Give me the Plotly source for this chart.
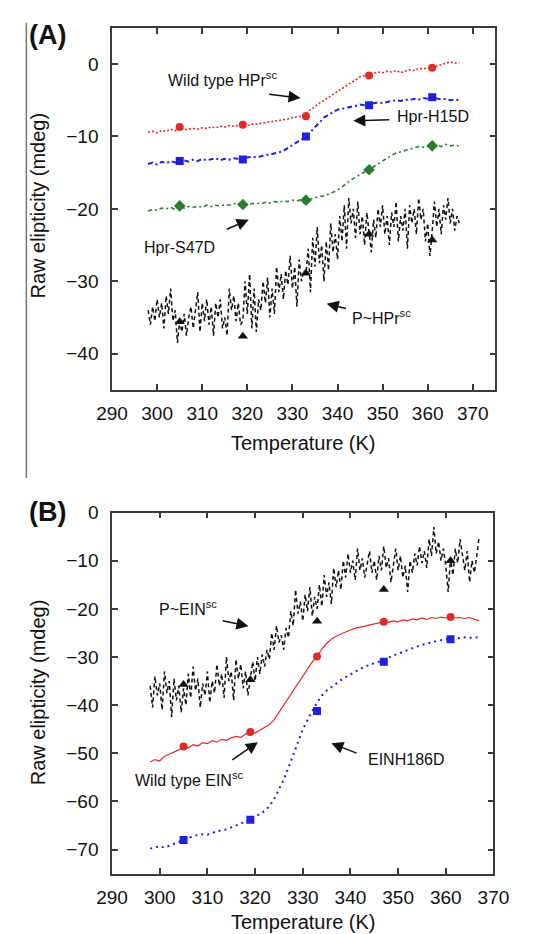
import plotly.graph_objects as go

# ---------------- DATA ----------------
# Panel A: noisy P~HPr (0.5 K step from 298 K)
a_black = [-34.0, -36.0, -33.5, -35.5, -32.5, -35.0, -33.0, -36.5, -32.0, -34.5,
           -31.0, -35.5, -34.0, -38.5, -35.5, -37.0, -34.5, -37.5, -35.0, -33.5,
           -36.5, -34.0, -31.5, -37.0, -33.0, -35.5, -32.5, -36.0, -33.5, -37.5,
           -33.0, -35.0, -32.5, -36.5, -35.0, -37.5, -31.0, -34.0, -32.0, -35.5,
           -33.0, -36.0, -35.5, -30.0, -34.5, -29.0, -36.5, -31.0, -37.0, -32.5,
           -34.0, -30.0, -33.0, -29.5, -35.0, -31.0, -34.5, -28.0, -31.5, -29.0,
           -32.5, -28.5, -30.5, -26.5, -31.0, -28.0, -33.5, -27.0, -30.0, -28.5,
           -29.0, -25.5, -31.5, -24.0, -28.0, -22.5, -27.5, -25.0, -30.0, -24.5,
           -28.5, -22.0, -26.0, -23.5, -27.0, -21.0, -24.5, -19.5, -25.5, -18.5,
           -22.0, -20.0, -24.0, -19.0, -23.5, -21.0, -25.0, -20.5, -23.0, -26.0,
           -21.5, -24.0, -20.0, -22.5, -19.5, -23.5, -21.0, -25.0, -20.5, -22.5,
           -19.0, -24.5, -21.0, -23.0, -20.0, -25.5, -19.5, -22.0, -20.0, -23.5,
           -18.5, -21.5, -20.0, -24.5, -22.0, -26.5, -23.0, -19.0, -22.5, -20.0,
           -23.5, -19.5, -21.5, -18.5, -22.0, -20.0, -23.0, -21.0, -22.0]

# Panel A smooth curves (1 K step from 298 K)
a_red = [-9.4, -9.3, -9.5, -9.2, -9.3, -9.0, -9.2, -8.8, -9.1, -9.0,
         -8.9, -9.0, -8.8, -8.9, -8.7, -8.8, -8.6, -8.7, -8.5, -8.6,
         -8.5, -8.4, -8.5, -8.3, -8.3, -8.2, -8.2, -8.1, -8.0, -7.9,
         -7.8, -7.6, -7.4, -7.3, -7.2, -6.8, -6.3, -5.8, -5.4, -5.0,
         -4.6, -4.2, -3.7, -3.3, -2.9, -2.5, -2.1, -1.8, -1.6, -1.4,
         -1.2, -1.1, -1.2, -1.0, -1.1, -0.9, -1.2, -1.0, -0.8, -0.9,
         -0.6, -0.7, -0.5, -0.5, -0.3, -0.1, 0.0, 0.3, 0.1, 0.2]
a_blue = [-13.8, -13.6, -13.9, -13.5, -13.7, -13.4, -13.6, -13.4, -13.3, -13.5,
          -13.2, -13.4, -13.1, -13.3, -13.2, -13.0, -13.3, -13.1, -13.2, -13.0,
          -13.1, -13.2, -12.9, -12.8, -12.9, -12.7, -12.6, -12.5, -12.4, -12.2,
          -12.0, -11.6, -11.2, -10.8, -10.4, -10.0, -9.4, -8.7, -8.0, -7.4,
          -7.0, -6.6, -6.3, -6.2, -6.0, -5.9, -5.8, -5.6, -5.7, -5.6,
          -5.4, -5.3, -5.4, -5.2, -5.1, -5.0, -5.1, -4.9, -5.0, -4.8,
          -4.9, -4.7, -4.8, -4.6, -4.7, -4.9, -4.8, -5.0, -4.9, -5.0]
a_green = [-20.3, -20.1, -20.2, -19.9, -20.0, -19.8, -20.1, -19.6, -19.9, -19.7,
           -19.8, -19.6, -19.8, -19.5, -19.7, -19.5, -19.6, -19.4, -19.5, -19.3,
           -19.4, -19.4, -19.5, -19.3, -19.2, -19.3, -19.1, -19.2, -19.0, -19.1,
           -18.9, -19.0, -18.8, -18.9, -18.7, -18.8, -18.6, -18.5, -18.3, -18.2,
           -18.0, -17.7, -17.4, -17.0, -16.5, -16.0, -15.6, -15.2, -14.9, -14.6,
           -14.2, -13.8, -13.3, -12.9, -12.6, -12.3, -12.1, -11.9, -11.7, -11.6,
           -11.4, -11.5, -11.3, -11.3, -11.2, -11.4, -11.1, -11.3, -11.2, -11.3]

# Panel B: noisy P~EIN (0.5 K step from 298 K)
b_black = [-36.0, -40.5, -34.0, -38.0, -35.5, -41.0, -33.0, -37.5, -35.0, -42.5,
           -34.5, -39.0, -36.0, -41.5, -36.5, -40.0, -33.5, -38.5, -32.0, -37.0,
           -34.5, -40.5, -35.5, -38.0, -33.0, -39.5, -35.0, -37.5, -31.5, -36.0,
           -33.5, -38.5, -30.0, -35.0, -33.0, -39.0, -30.5, -34.5, -31.5, -36.5,
           -33.0, -38.0, -34.5, -31.0, -35.0, -30.0, -33.5, -29.5, -32.0, -28.5,
           -30.5, -25.0, -28.5, -23.5, -27.0, -25.5, -28.5, -24.0, -26.0, -20.5,
           -23.5, -16.0, -21.0, -18.5, -22.5, -17.0, -20.5, -15.5, -21.5, -17.5,
           -20.0, -15.0, -19.5, -13.0, -17.5, -14.5, -19.0, -11.5, -15.5, -12.0,
           -16.0, -10.0, -13.5, -8.5, -12.5, -10.0, -14.0, -7.5, -12.0, -9.5,
           -13.5, -10.5, -8.0, -12.5, -10.0, -14.0, -9.0, -12.0, -7.0, -11.5,
           -9.5, -14.5, -10.5, -7.5, -12.0, -9.0, -13.5, -11.0, -16.5, -10.0,
           -12.5, -8.5, -11.0, -7.0, -10.5, -8.0, -11.5, -5.5, -9.0, -3.0,
           -8.5, -6.0, -10.0, -7.5, -11.0, -16.5, -9.5, -13.0, -7.5, -10.5,
           -5.5, -9.0, -12.0, -8.0, -14.5, -10.0, -12.5, -9.0, -5.0]

# Panel B smooth curves (1 K step from 298 K)
b_red = [-51.8, -51.3, -51.6, -50.6, -50.2, -49.7, -49.3, -48.6, -48.9, -48.2,
         -48.5, -47.8, -48.0, -47.4, -47.7, -47.1, -47.3, -46.8, -46.5, -46.7,
         -46.0, -45.6, -45.8, -45.2, -44.6, -44.0, -43.0, -41.5, -40.0, -38.5,
         -37.0, -35.5, -34.0, -32.5, -31.0, -29.9, -28.4, -27.2, -26.3, -25.7,
         -25.2, -24.8, -24.4, -24.0, -23.8, -23.6, -23.3, -23.1, -22.9, -22.6,
         -22.8, -22.5, -22.7, -22.3, -22.5, -22.1, -22.3, -21.9, -22.2, -21.8,
         -22.0, -21.7, -21.9, -21.6, -21.9, -21.8, -22.0, -21.8, -22.2, -22.5]
b_blue = [-69.8, -69.6, -69.3, -69.6, -69.2, -68.7, -68.3, -68.0, -67.6, -67.2,
          -67.0, -66.8, -66.9, -66.5, -66.2, -66.0, -65.8, -65.4, -65.0, -64.6,
          -64.2, -63.8, -63.2, -62.6, -62.0, -61.0, -59.5, -57.5, -55.5, -53.0,
          -50.5, -47.7, -45.0, -43.0, -41.2, -39.5, -38.0, -37.0, -36.2, -35.5,
          -34.8, -34.2, -33.6, -33.0, -32.5, -32.0, -31.6, -31.3, -31.0, -30.5,
          -30.1, -29.7, -29.3, -28.9, -28.5, -28.1, -27.8, -27.5, -27.2, -26.9,
          -26.7, -26.5, -26.3, -26.2, -26.0, -26.1, -25.9, -26.0, -25.9, -25.9]

# Marker temperatures and values
mk_temps = [305, 319, 333, 347, 361]
a_red_mk = [-8.7, -8.4, -7.2, -1.6, -0.5]
a_blue_mk = [-13.4, -13.2, -10.0, -5.7, -4.6]
a_green_mk = [-19.6, -19.4, -18.8, -14.6, -11.3]
a_black_mk = [-35.6, -37.6, -28.9, -23.5, -24.3]
b_red_mk = [-48.6, -45.6, -29.9, -22.7, -21.7]
b_blue_mk = [-68.0, -63.8, -41.2, -31.0, -26.3]
b_black_mk = [-35.7, -34.7, -22.6, -16.0, -10.0]

x_ticks = [290, 300, 310, 320, 330, 340, 350, 360, 370]
a_yticks = [0, -10, -20, -30, -40]
b_yticks = [0, -10, -20, -30, -40, -50, -60, -70]

T_START = 298
fine_t = [T_START + 0.5 * i for i in range(len(a_black))]
fine_tb = [T_START + 0.5 * i for i in range(len(b_black))]
coarse_t = [T_START + i for i in range(len(a_red))]

# ---------------- FIGURE ----------------
W, H = 549, 934
FONT = "Liberation Sans, Arial, sans-serif"
RED = "#e02a2a"
BLUE = "#1f1fe0"
GREEN = "#2e7a2e"
BLACK = "#111111"

fig = go.Figure()


def line(x, y, color, width, dash, xa, ya):
    fig.add_trace(go.Scatter(x=x, y=y, mode="lines", xaxis=xa, yaxis=ya,
                             line=dict(color=color, width=width, dash=dash),
                             showlegend=False, hoverinfo="skip"))


def marks(y, color, symbol, size, xa, ya):
    fig.add_trace(go.Scatter(x=mk_temps, y=y, mode="markers", xaxis=xa, yaxis=ya,
                             marker=dict(color=color, symbol=symbol, size=size),
                             showlegend=False, hoverinfo="skip"))


# Panel A
line(coarse_t, a_red, RED, 1.6, "2px,2px", "x", "y")
line(coarse_t, a_blue, BLUE, 2, "5px,3px,2px,3px", "x", "y")
line(coarse_t, a_green, GREEN, 1.6, "4px,3px,2px,3px", "x", "y")
line(fine_t, a_black, BLACK, 1.5, "4px,3px", "x", "y")
marks(a_red_mk, RED, "circle", 8, "x", "y")
marks(a_blue_mk, BLUE, "square", 8, "x", "y")
marks(a_green_mk, GREEN, "diamond", 9, "x", "y")
marks(a_black_mk, BLACK, "triangle-up", 9, "x", "y")

# Panel B
line(fine_tb, b_black, BLACK, 1.5, "4px,3px", "x2", "y2")
line(coarse_t, b_red, RED, 1.2, "solid", "x2", "y2")
line(coarse_t, b_blue, BLUE, 2, "2px,4px", "x2", "y2")
marks(b_red_mk, RED, "circle", 8, "x2", "y2")
marks(b_blue_mk, BLUE, "square", 8, "x2", "y2")
marks(b_black_mk, BLACK, "triangle-up", 9, "x2", "y2")

axis_common = dict(showline=True, linecolor="#3a3a3a", linewidth=1.5, mirror="ticks",
                   ticks="inside", ticklen=6, tickwidth=1.5, tickcolor="#3a3a3a",
                   showgrid=False, zeroline=False,
                   tickfont=dict(family=FONT, size=19, color="#111"))

fig.update_layout(
    width=W, height=H, autosize=False,
    margin=dict(l=0, r=0, t=0, b=0),
    paper_bgcolor="white", plot_bgcolor="white",
    xaxis=dict(domain=[102 / W, 509 / W], range=[290, 375], tickvals=x_ticks,
               anchor="y", ticklabelstandoff=6, **axis_common),
    yaxis=dict(domain=[1 - 384 / H, 1 - 18 / H], range=[-45, 5], tickvals=a_yticks,
               anchor="x", ticklabelstandoff=8, **axis_common),
    xaxis2=dict(domain=[102 / W, 507 / W], range=[290, 370], tickvals=x_ticks,
                anchor="y2", ticklabelstandoff=6, **axis_common),
    yaxis2=dict(domain=[1 - 873 / H, 1 - 508 / H], range=[-75, 0], tickvals=b_yticks,
                anchor="x2", ticklabelstandoff=8, **axis_common),
)

ann = []
TF = dict(family=FONT, size=16, color="#111")


def text(x, y, s, xr, yr):
    ann.append(dict(x=x, y=y, xref=xr, yref=yr, text=s, showarrow=False, font=TF,
                    xanchor="center", yanchor="middle"))


def arrow(hx, hy, tx, ty, xr, yr):
    ann.append(dict(x=hx, y=hy, ax=tx, ay=ty, xref=xr, yref=yr, axref=xr, ayref=yr,
                    text="", showarrow=True, arrowhead=2, arrowsize=1.6,
                    arrowwidth=1.5, arrowcolor="#111"))


# Panel A labels
text(314.6, -2.1, "Wild type HPr<sup>sc</sup>", "x", "y")
arrow(331.8, -4.7, 324.5, -4.15, "x", "y")
text(361.2, -7.3, "Hpr-H15D", "x", "y")
arrow(343.5, -7.85, 351.8, -7.7, "x", "y")
text(305.0, -25.3, "Hpr-S47D", "x", "y")
arrow(320.3, -21.5, 315.1, -22.9, "x", "y")
text(349.7, -34.9, "P~HPr<sup>sc</sup>", "x", "y")
arrow(337.6, -33.1, 342.2, -33.8, "x", "y")

# Panel B labels
text(306.0, -19.9, "P~EIN<sup>sc</sup>", "x2", "y2")
arrow(318.6, -23.6, 312.9, -22.4, "x2", "y2")
text(306.2, -55.3, "Wild type EIN<sup>sc</sup>", "x2", "y2")
arrow(320.6, -47.7, 314.9, -51.6, "x2", "y2")
text(351.6, -51.2, "EINH186D", "x2", "y2")
arrow(336.0, -47.9, 341.6, -50.1, "x2", "y2")

# Panel letters
for lab, py in [("(A)", 25), ("(B)", 507)]:
    ann.append(dict(x=12 / W, y=1 - py / H, xref="paper", yref="paper", text="<b>%s</b>" % lab,
                    showarrow=False, xanchor="left", yanchor="middle",
                    font=dict(family=FONT, size=27, color="#111")))

# Axis titles
TT = dict(family=FONT, size=20, color="#111")
for cy in [438, 922]:
    ann.append(dict(x=(305) / W, y=1 - cy / H, xref="paper", yref="paper",
                    text="Temperature (K)", showarrow=False, xanchor="center",
                    yanchor="middle", font=TT))
for cy in [198, 690]:
    ann.append(dict(x=23 / W, y=1 - cy / H, xref="paper", yref="paper",
                    text="Raw elipticity (mdeg)", showarrow=False, textangle=-90,
                    xanchor="center", yanchor="middle", font=TT))

fig.update_layout(annotations=ann)

# Left grey frame line of panel A
fig.add_shape(type="line", xref="paper", yref="paper", x0=11 / W, x1=11 / W,
              y0=1 - 473 / H, y1=1 - 13 / H, line=dict(color="#777", width=1.5))

fig.write_html("out.html")
